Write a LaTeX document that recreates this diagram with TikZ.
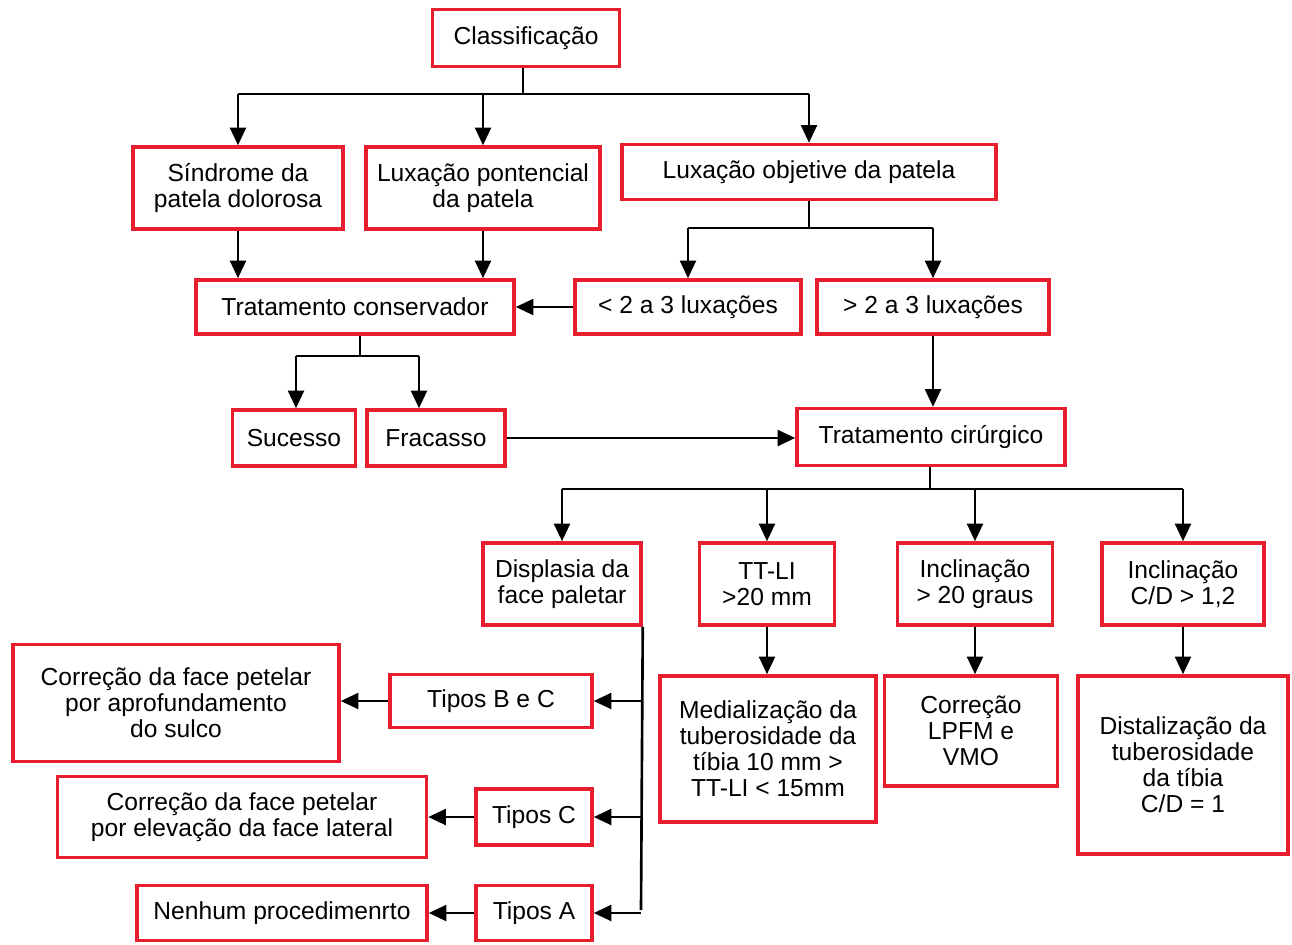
\documentclass[tikz,border=0pt]{standalone}
\usepackage{fontspec}
\setmainfont{Liberation Sans}
\usetikzlibrary{arrows.meta, positioning}
\definecolor{boxred}{RGB}{232,30,46}
\tikzset{
  box/.style={draw=boxred, line width=2pt, rectangle, fill=white, align=center, inner sep=2pt, font=\fontsize{14}{14.8}\selectfont},
  sz/.style 2 args={minimum width=#1*0.02cm, minimum height=#2*0.02cm},
  line/.style={line width=1.5pt, black},
  arrow/.style={-{Triangle[length=10pt, width=9pt]}, line width=1.5pt}
}
\begin{document}
\begin{tikzpicture}[x=0.02cm, y=-0.02cm]
\useasboundingbox (0,0) rectangle (1292,944);

% Nodes
\node[box, sz={187}{57}] (cls) at (526,38) {Classificação};
\node[box, sz={210}{82}] (sind) at (238,188) {Síndrome da\\patela dolorosa};
\node[box, sz={234}{82}] (luxpot) at (483,188) {Luxação pontencial\\da patela};
\node[box, sz={374}{55}] (luxobj) at (809,172) {Luxação objetive da patela};
\node[box, sz={318}{54}] (tcons) at (355,307) {Tratamento conservador};
\node[box, sz={226}{54}] (menos) at (688,307) {< 2 a 3 luxações};
\node[box, sz={232}{54}] (mais) at (933,307) {> 2 a 3 luxações};
\node[box, sz={123}{56}] (suc) at (294,438) {Sucesso};
\node[box, sz={138}{56}] (frac) at (436,438) {Fracasso};
\node[box, sz={268}{57}] (tcir) at (931,437) {Tratamento cirúrgico};
\node[box, sz={158}{82}] (disp) at (562,584) {Displasia da\\face paletar};
\node[box, sz={135}{82}] (ttli) at (767,584) {TT-LI\\>20 mm};
\node[box, sz={155}{82}] (incl) at (975,584) {Inclinação\\> 20 graus};
\node[box, sz={162}{82}] (inclcd) at (1183,584) {Inclinação\\C/D > 1,2};
\node[box, sz={216}{146}] (medi) at (768,749) {Medialização da\\tuberosidade da\\tíbia 10 mm >\\TT-LI < 15mm};
\node[box, sz={173}{110}] (lpfm) at (971,731) {Correção\\LPFM e\\VMO};
\node[box, sz={210}{178}] (dist) at (1183,765) {Distalização da\\tuberosidade\\da tíbia\\C/D = 1};
\node[box, sz={202}{53}] (tbc) at (491,701) {Tipos B e C};
\node[box, sz={116}{56}] (tc) at (534,817) {Tipos C};
\node[box, sz={116}{55}] (ta) at (534,913) {Tipos A};
\node[box, sz={326}{117}] (corrap) at (176,703) {Correção da face petelar\\por aprofundamento\\do sulco};
\node[box, sz={369}{81}] (correl) at (242,817) {Correção da face petelar\\por elevação da face lateral};
\node[box, sz={290}{55}] (nenhum) at (282,913) {Nenhum procedimenrto};

% Junctions
\coordinate (j1) at (523,94);
\coordinate (j2) at (810,228);
\coordinate (j3) at (360,356);
\coordinate (j3a) at (296,356);
\coordinate (j3b) at (419,356);
\coordinate (j4) at (930,489);
\coordinate (j5) at (641,910);

% Connections
\draw[line] (cls.south -| j1) -- (j1);
\draw[line] (j1 -| sind) -- (j1 -| luxobj);
\foreach \n in {sind, luxpot, luxobj}
  \draw[arrow] (j1 -| \n.north) -- (\n.north);

\draw[line] (luxobj.south) -- (j2 -| luxobj);
\draw[line] (j2 -| menos) -- (j2 -| mais);
\foreach \n in {menos, mais}
  \draw[arrow] (j2 -| \n.north) -- (\n.north);

\draw[arrow] (sind.south) -- (sind.south |- tcons.north);
\draw[arrow] (luxpot.south) -- (luxpot.south |- tcons.north);
\draw[arrow] (menos) -- (tcons);

\draw[line] (j3 |- tcons.south) -- (j3);
\draw[line] (j3a) -- (j3b);
\draw[arrow] (j3a) -- (j3a |- suc.north);
\draw[arrow] (j3b) -- (j3b |- frac.north);

\draw[arrow] (mais.south) -- (mais.south |- tcir.north);
\draw[arrow] (frac.east) -- (frac.east -| tcir.west);

\draw[line] (tcir.south -| j4) -- (j4);
\draw[line] (j4 -| disp) -- (j4 -| inclcd);
\foreach \n in {disp, ttli, incl, inclcd}
  \draw[arrow] (j4 -| \n.north) -- (\n.north);

\draw[arrow] (ttli.south) -- (ttli.south |- medi.north);
\draw[arrow] (incl.south) -- (incl.south |- lpfm.north);
\draw[arrow] (inclcd.south) -- (inclcd.south |- dist.north);

\draw[line] (disp.south east) -- (j5);
\foreach \n in {tbc, tc, ta}
  \draw[arrow] (\n.east -| j5) -- (\n.east);
\draw[arrow] (tbc.west) -- (tbc.west -| corrap.east);
\draw[arrow] (tc.west) -- (tc.west -| correl.east);
\draw[arrow] (ta.west) -- (ta.west -| nenhum.east);

\end{tikzpicture}
\end{document}
